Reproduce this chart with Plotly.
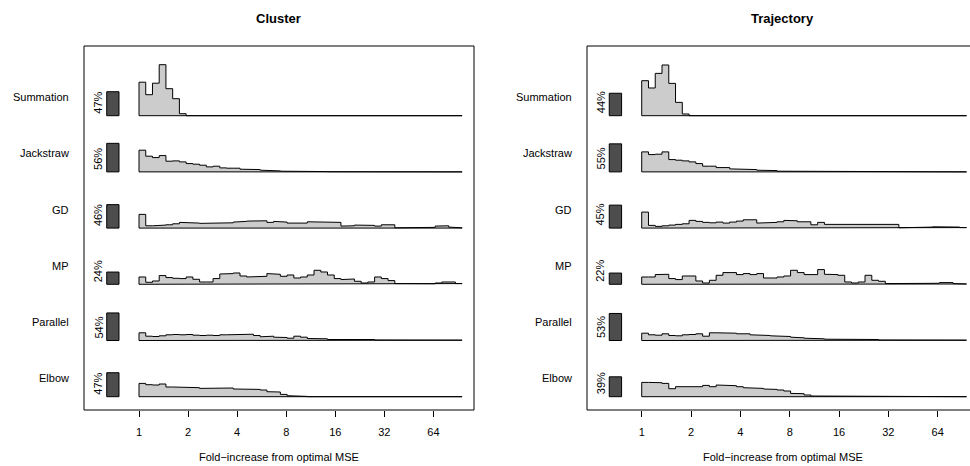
import numpy as np
import plotly.graph_objects as go

# ---------------- data ----------------
methods = ["Summation", "Jackstraw", "GD", "MP", "Parallel", "Elbow"]
panel_titles = ["Cluster", "Trajectory"]

cluster_pct = [47, 56, 46, 24, 54, 47]
trajectory_pct = [44, 55, 45, 22, 53, 39]

tick_folds = [1, 2, 4, 8, 16, 32, 64]
max_fold = 96          # upper end of histogram range (fold-increase)
n_bins = 48            # log-spaced bins from 1 to max_fold

# relative bin heights (same unit as the % bars: 51 = 100 %)
cluster_summation = [33.5, 21, 32.5, 51, 27, 17, 2]
cluster_jackstraw = [21.7, 15.7, 14.3, 16.3, 10.7, 11, 10, 8.3, 7.7, 6.7, 5, 5.7, 4, 3.7, 3.7,
                     2.7, 2.7, 2.3, 1.7, 1.3, 1, 0.7, 0.5, 0.5, 1, 0.5, 0.3, 0.3, 0.2]
cluster_gd = [13.7, 2.3, 2.3, 3, 3.3, 4.3, 5.7, 5.3, 5, 4.7, 4.7, 5.3, 4.7, 5.3, 6, 6.7, 7, 7,
              7.3, 5.7, 6.7, 6, 5, 5.3, 5, 6.3, 6, 5.7, 5.7, 5.7, 2, 2.3, 3, 3.3, 2.7, 2, 3.3,
              3.3, 0.3, 0.3, 0.7, 1, 1, 0.7, 2, 2.3, 1, 0.3]
cluster_mp = [7.3, 2, 3.3, 8.7, 6.7, 6, 5.7, 7.3, 5, 2.3, 2.3, 5.7, 10.3, 10.7, 11.3, 8.3, 7.3,
              8, 8, 10.7, 10, 8, 9.3, 6.3, 7.3, 9.3, 14, 12.3, 9.3, 5.7, 4.7, 5.3, 3, 1.3, 2.3,
              7.3, 5.7, 3.7, 0.7, 0.7, 0.5, 0.5, 0.5, 0.5, 1.3, 2.3, 2.3, 0.7]
cluster_parallel = [7.7, 4.3, 4, 4.7, 5.7, 6, 5.7, 6, 5.3, 5, 5.3, 5, 5.7, 5.7, 6.3, 6.3, 6.3,
                    5, 3.7, 4.3, 3.3, 3, 2.3, 4.3, 3.3, 2, 1.3, 1.7, 1, 1.3, 1.3, 1, 0.7, 1.3,
                    1, 0.5, 0.5, 0.5, 0.5, 0.5, 0.5, 0.5, 0.5, 0.3, 0.3, 0.3, 0.3, 0.3]
cluster_elbow = [13.3, 12, 11.7, 12.7, 9.7, 9.7, 9.7, 9, 9, 8.3, 9, 9, 8.7, 8.7, 7.7, 7.7, 7.3,
                 7.3, 6.7, 5, 4.7, 2.3, 1, 0.7, 0.3]

trajectory_summation = [35, 27.7, 42.3, 50.7, 32.3, 13.3, 1.7]
trajectory_jackstraw = [20, 17.3, 17.7, 20, 12.3, 11.7, 11, 10, 8.3, 5.7, 5.7, 4.3, 4.3, 3, 3,
                        3, 2.3, 1.7, 1.7, 1.3, 0.7, 0.7, 0.5, 0.5, 0.7, 0.7, 0.5, 0.3]
trajectory_gd = [16, 2.7, 1.7, 2.3, 3, 3.7, 4.3, 7.7, 6.7, 5.7, 5.3, 6, 5, 6, 7, 8.3, 8.3, 5, 5,
                 5.7, 6.3, 7.7, 7.3, 6.3, 6.3, 3.3, 5.7, 3.7, 3, 3, 3, 3, 3, 3.3, 3.3, 3.7,
                 3.7, 3.7, 0.3, 0.3, 0.5, 0.7, 1, 1.3, 1.7, 1, 1, 0.5]
trajectory_mp = [7.3, 7.3, 9.7, 10, 5.7, 4.7, 8.3, 8.3, 3.3, 1.3, 4, 9, 11.7, 11.7, 9.7, 10.7,
                 9.7, 10.7, 6.3, 6.3, 7.3, 8.3, 14, 11.7, 9.7, 9.7, 14.7, 10, 9.7, 9, 2.3,
                 1.3, 2.3, 9, 4, 3, 0.7, 0.7, 0.7, 0.7, 0.7, 0.7, 0.7, 1, 1.7, 1.7, 0.7, 0.3]
trajectory_parallel = [7.3, 5.7, 5.3, 6.7, 5, 4.7, 5.7, 6, 6.7, 4.3, 7.7, 7.7, 8, 7.3, 6.7,
                       6.7, 5.7, 5.7, 5, 4.7, 4.3, 4, 3.3, 2.7, 2.3, 2, 1.7, 1.3, 1.3, 1.3, 1,
                       1.3, 1, 0.7, 1, 0.5, 0.5, 0.5, 0.5, 0.5, 0.5, 0.3, 0.3, 0.3, 0.3, 0.3,
                       0.3, 0.3]
trajectory_elbow = [14.3, 14.2, 14, 13.3, 8, 10, 10, 10, 10, 11.3, 10, 11.7, 11, 11, 10, 9, 9,
                    8.3, 7.7, 7.3, 6.7, 5.7, 3.3, 3, 1.7, 0.7, 0.3]

cluster_hists = [cluster_summation, cluster_jackstraw, cluster_gd, cluster_mp,
                 cluster_parallel, cluster_elbow]
trajectory_hists = [trajectory_summation, trajectory_jackstraw, trajectory_gd, trajectory_mp,
                    trajectory_parallel, trajectory_elbow]

# ---------------- styling / layout constants ----------------
W, H = 970, 466
ROW_PX = 56.2           # vertical spacing of rows in px
FULL_PX = 51.0          # px height corresponding to 100 % / unit 51
unit = FULL_PX / ROW_PX  # row units for 100 %
HIST_FILL = "#CCCCCC"
BAR_FILL = "#4D4D4D"
FONT = "Liberation Sans, Arial, Helvetica, sans-serif"

edges = np.linspace(0, np.log2(max_fold), n_bins + 1)
n_rows = len(methods)
baselines = [n_rows - 1 - i for i in range(n_rows)]

fig = go.Figure()

panels = [
    dict(xa="x", ya="y", pct=cluster_pct, hists=cluster_hists,
         dom=[84 / W, 474 / W], rng=[-1.121, 6.827], lab_px=71, frame_x1=1.0, xc=278.5),
    dict(xa="x2", ya="y2", pct=trajectory_pct, hists=trajectory_hists,
         dom=[587 / W, 1.0], rng=[-1.109, 6.655], lab_px=574, frame_x1=1.021, xc=782.5),
]

annotations = []
shapes = []
for p_i, p in enumerate(panels):
    for r, m in enumerate(methods):
        base = baselines[r]
        h = list(p["hists"][r]) + [0] * (n_bins - len(p["hists"][r]))
        xs, ys = [edges[0]], [base]
        for i in range(n_bins):
            yv = base + h[i] / FULL_PX * unit
            xs += [edges[i], edges[i + 1]]
            ys += [yv, yv]
        xs += [edges[-1], edges[0]]
        ys += [base, base]
        fig.add_trace(go.Scatter(x=xs, y=ys, mode="lines", fill="toself",
                                 fillcolor=HIST_FILL, line=dict(color="black", width=1),
                                 xaxis=p["xa"], yaxis=p["ya"], hoverinfo="skip",
                                 showlegend=False))
        # row label
        annotations.append(dict(xref="paper", yref=p["ya"], x=p["lab_px"] / W,
                                y=base + 0.33, text=m, showarrow=False, xanchor="right",
                                yanchor="middle", font=dict(size=11, color="black", family=FONT)))
        # percentage label
        annotations.append(dict(xref=p["xa"], yref=p["ya"], x=-0.835, y=base,
                                text=f"{p['pct'][r]}%", textangle=-90, showarrow=False,
                                xanchor="center", yanchor="bottom",
                                font=dict(size=11, color="black", family=FONT)))
    fig.add_trace(go.Bar(x=[-0.533] * n_rows, y=[v / 100 * unit for v in p["pct"]],
                         base=baselines, width=0.25, marker=dict(color=BAR_FILL,
                         line=dict(color="black", width=1)), xaxis=p["xa"], yaxis=p["ya"],
                         hoverinfo="skip", showlegend=False))
    xc = p["xc"] / W
    annotations.append(dict(xref="paper", yref="paper", x=xc, y=1 - 18 / H,
                            text=f"<b>{panel_titles[p_i]}</b>", showarrow=False,
                            xanchor="center", yanchor="middle",
                            font=dict(size=13, color="black", family=FONT)))
    annotations.append(dict(xref="paper", yref="paper", x=xc, y=1 - 457 / H,
                            text="Fold\u2212increase from optimal MSE", showarrow=False,
                            xanchor="center", yanchor="middle",
                            font=dict(size=11, color="black", family=FONT)))
    sx = "x domain" if p_i == 0 else "x2 domain"
    sy = "y domain" if p_i == 0 else "y2 domain"
    shapes.append(dict(type="rect", xref=sx, yref=sy, x0=0, x1=p["frame_x1"], y0=0, y1=1,
                       line=dict(color="black", width=1), fillcolor="rgba(0,0,0,0)"))

ydom = [1 - 410 / H, 1 - 46 / H]
yrng = [-0.2367, 6.240]
axis_common = dict(tickvals=list(np.log2(tick_folds)), ticktext=[str(t) for t in tick_folds],
                   ticks="outside", ticklen=6, tickcolor="black", tickwidth=1,
                   showgrid=False, zeroline=False, showline=False, ticklabelstandoff=6,
                   tickfont=dict(size=11, color="black", family=FONT), fixedrange=True)
yaxis_common = dict(range=yrng, domain=ydom, showgrid=False, zeroline=False,
                    showticklabels=False, ticks="", showline=False, fixedrange=True)

fig.update_layout(
    width=W, height=H, margin=dict(l=0, r=0, t=0, b=0),
    paper_bgcolor="white", plot_bgcolor="white", showlegend=False,
    barmode="overlay", hovermode=False,
    xaxis=dict(domain=panels[0]["dom"], range=panels[0]["rng"], anchor="y", **axis_common),
    xaxis2=dict(domain=panels[1]["dom"], range=panels[1]["rng"], anchor="y2", **axis_common),
    yaxis=dict(anchor="x", **yaxis_common),
    yaxis2=dict(anchor="x2", **yaxis_common),
    annotations=annotations, shapes=shapes,
    font=dict(family=FONT, color="black"),
)

fig.write_html("out.html", config={"displayModeBar": False},
               post_script="document.body.style.margin='0';document.body.style.overflow='hidden';")
